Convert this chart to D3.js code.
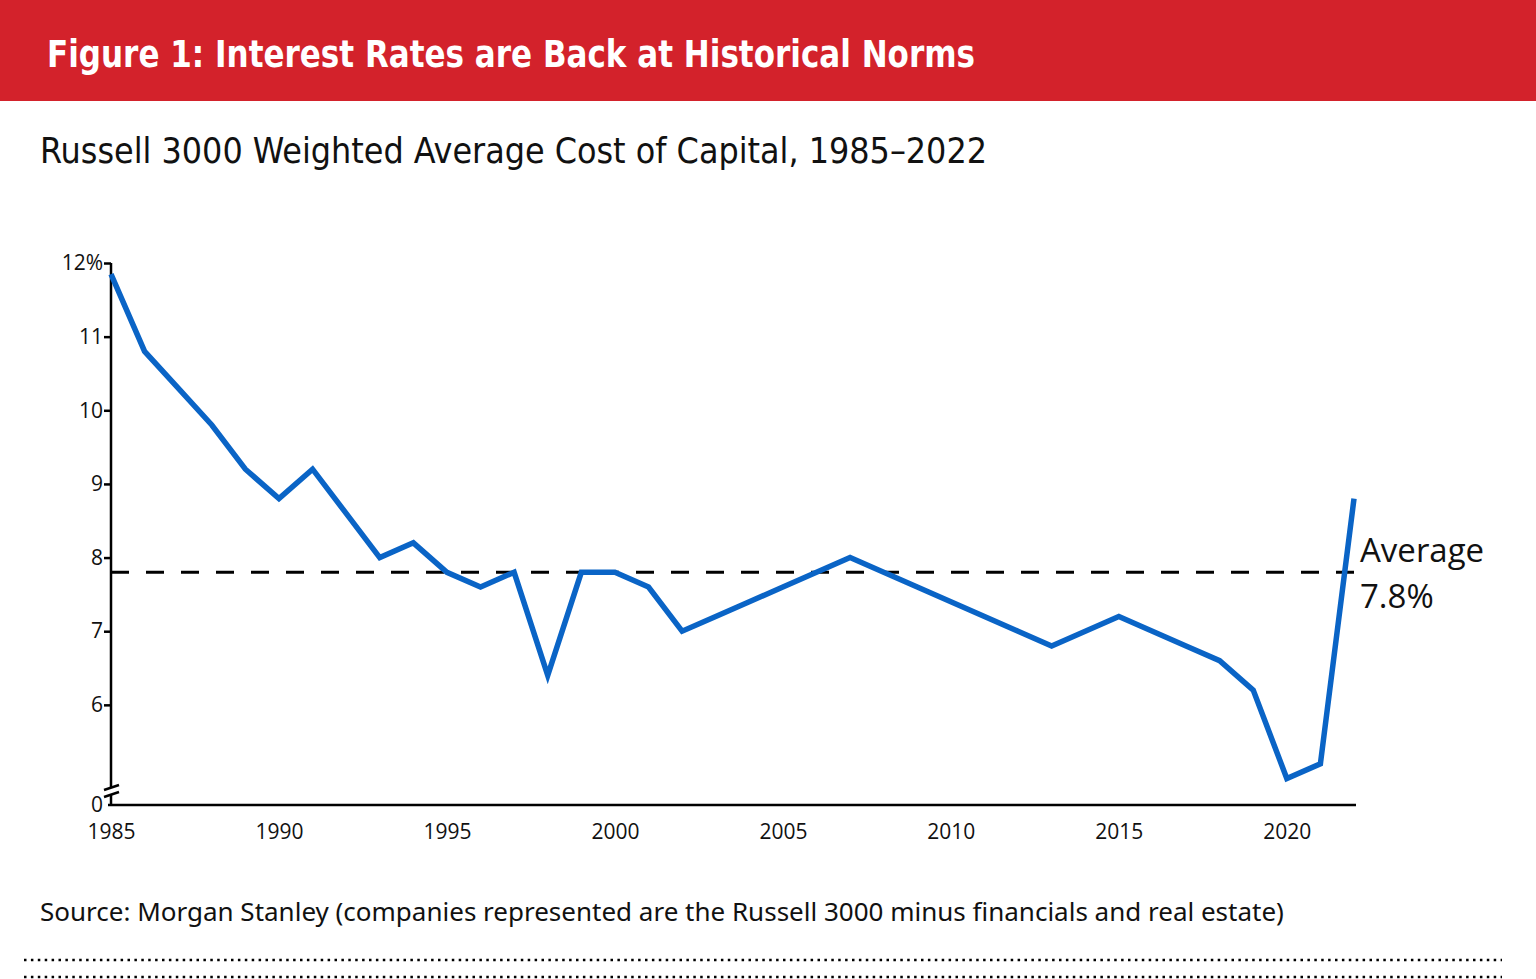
<!DOCTYPE html>
<html>
<head>
<meta charset="utf-8">
<script src="https://cdn.jsdelivr.net/npm/d3@7"></script>
<style>
  body { margin: 0; background: #fff; }
  svg { display: block; }
</style>
</head>
<body>
<div id="chart"></div>
<script>
const width = 1536, height = 979;

// data
const years = [1985, 1986, 1987, 1988, 1989, 1990, 1991, 1992, 1993, 1994,
  1995, 1996, 1997, 1998, 1999, 2000, 2001, 2002, 2003, 2004,
  2005, 2006, 2007, 2008, 2009, 2010, 2011, 2012, 2013, 2014,
  2015, 2016, 2017, 2018, 2019, 2020, 2021, 2022];
const wacc = [11.85, 10.8, 10.3, 9.8, 9.2, 8.8, 9.2, 8.6, 8.0, 8.2,
  7.8, 7.6, 7.8, 6.4, 7.8, 7.8, 7.6, 7.0, 7.2, 7.4,
  7.6, 7.8, 8.0, 7.8, 7.6, 7.4, 7.2, 7.0, 6.8, 7.0,
  7.2, 7.0, 6.8, 6.6, 6.2, 5.0, 5.2, 8.8];
const average = 7.8;
const yTicks = [6, 7, 8, 9, 10, 11, 12];
const xTicks = [1985, 1990, 1995, 2000, 2005, 2010, 2015, 2020];

const titleText = "Figure 1: Interest Rates are Back at Historical Norms";
const subtitleText = "Russell 3000 Weighted Average Cost of Capital, 1985\u20132022";
const sourceText = "Source: Morgan Stanley (companies represented are the Russell 3000 minus financials and real estate)";

const svg = d3.select("#chart").append("svg")
  .attr("width", width)
  .attr("height", height);

// header bar
svg.append("rect")
  .attr("x", 0).attr("y", 0)
  .attr("width", width).attr("height", 101)
  .attr("fill", "#d3222b");

svg.append("text")
  .attr("x", 47).attr("y", 67)
  .attr("fill", "#fff")
  .attr("textLength", 928)
  .attr("lengthAdjust", "spacingAndGlyphs")
  .style("font-family", "'DejaVu Sans Condensed', sans-serif")
  .style("font-weight", "bold")
  .style("font-size", "37px")
  .text(titleText);

svg.append("text")
  .attr("x", 40).attr("y", 163)
  .attr("fill", "#111")
  .attr("textLength", 947)
  .attr("lengthAdjust", "spacingAndGlyphs")
  .style("font-family", "'DejaVu Sans Condensed', sans-serif")
  .style("font-size", "36px")
  .text(subtitleText);

// scales: the axis is broken, so the bottom of the range is labelled 0
const x = d3.scaleLinear().domain([1985, 2022]).range([111, 1354]);
const y = d3.scaleLinear().domain([4.64, 12]).range([805, 263]);

const tickFont = "'Open Sans', 'Lato', sans-serif";

// y axis
const yAxis = d3.axisLeft(y)
  .tickValues(yTicks)
  .tickSize(7)
  .tickFormat(d => d === 12 ? "12%" : d);

const gy = svg.append("g")
  .attr("transform", "translate(111,0)")
  .call(yAxis);
gy.select(".domain").remove();
gy.selectAll(".tick line").attr("stroke", "#000").attr("stroke-width", 2.5);
gy.selectAll(".tick text")
  .attr("x", -8)
  .attr("fill", "#111")
  .style("font-family", tickFont)
  .style("font-size", "21px");

// y axis line with break
svg.append("line")
  .attr("x1", 111).attr("x2", 111)
  .attr("y1", y(12)).attr("y2", 787)
  .attr("stroke", "#000").attr("stroke-width", 2.5);
svg.append("line")
  .attr("x1", 111).attr("x2", 111)
  .attr("y1", 795).attr("y2", y.range()[0])
  .attr("stroke", "#000").attr("stroke-width", 2.5);
[788, 795].forEach(b => {
  svg.append("line")
    .attr("x1", 104).attr("x2", 119)
    .attr("y1", b + 2).attr("y2", b - 3)
    .attr("stroke", "#000").attr("stroke-width", 2.5);
});
svg.append("text")
  .attr("x", 103).attr("y", y.range()[0])
  .attr("dy", "0.32em")
  .attr("text-anchor", "end")
  .attr("fill", "#111")
  .style("font-family", tickFont)
  .style("font-size", "21px")
  .text("0");

// x axis
const xAxis = d3.axisBottom(x)
  .tickValues(xTicks)
  .tickSize(0)
  .tickPadding(19)
  .tickFormat(d3.format("d"));

const gx = svg.append("g")
  .attr("transform", `translate(0,${y.range()[0]})`)
  .call(xAxis);
gx.select(".domain").remove();
gx.selectAll(".tick text")
  .attr("fill", "#111")
  .style("font-family", tickFont)
  .style("font-size", "21px");

svg.append("line")
  .attr("x1", 108).attr("x2", 1356)
  .attr("y1", y.range()[0]).attr("y2", y.range()[0])
  .attr("stroke", "#000").attr("stroke-width", 2.5);

// average line
svg.append("line")
  .attr("x1", x(1985)).attr("x2", x(2022) + 2)
  .attr("y1", y(average)).attr("y2", y(average))
  .attr("stroke", "#000")
  .attr("stroke-width", 3)
  .attr("stroke-dasharray", "18,17");

// series
const line = d3.line()
  .x((d, i) => x(years[i]))
  .y(d => y(d));

svg.append("path")
  .datum(wacc)
  .attr("d", line)
  .attr("fill", "none")
  .attr("stroke", "#0a64c6")
  .attr("stroke-width", 5.5)
  .attr("stroke-linejoin", "miter");

const avgLabel = svg.append("text")
  .attr("x", 1360)
  .attr("fill", "#111")
  .style("font-family", tickFont)
  .style("font-size", "33px");
avgLabel.append("tspan").attr("x", 1360).attr("y", 562).text("Average");
avgLabel.append("tspan").attr("x", 1360).attr("y", 608).text(average + "%");

// source
svg.append("text")
  .attr("x", 40).attr("y", 921)
  .attr("fill", "#111")
  .style("font-family", "'Noto Sans', sans-serif")
  .style("font-size", "26px")
  .text(sourceText);

// dotted rules at the bottom
[960, 977].forEach(yy => {
  svg.append("line")
    .attr("x1", 24).attr("x2", 1502)
    .attr("y1", yy).attr("y2", yy)
    .attr("stroke", "#000")
    .attr("stroke-width", 2.5)
    .attr("stroke-dasharray", "2.5,4.4");
});
</script>
</body>
</html>
